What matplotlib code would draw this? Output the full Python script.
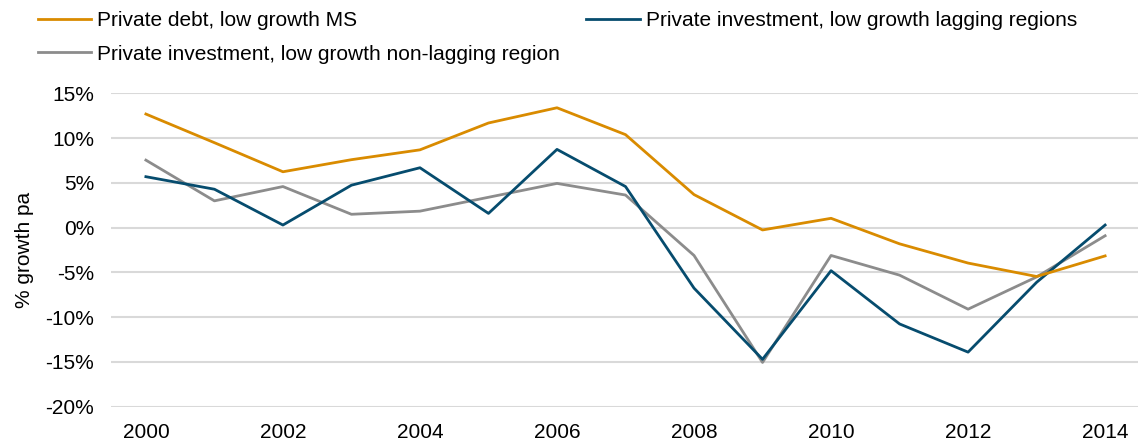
import matplotlib
matplotlib.use('Agg')
import matplotlib.pyplot as plt
from matplotlib.ticker import FuncFormatter

plt.rcParams['font.family'] = ['Liberation Sans', 'DejaVu Sans']

years = list(range(2000, 2015))
debt_ms = [12.7, 9.5, 6.25, 7.6, 8.7, 11.7, 13.4, 10.4, 3.7, -0.25, 1.05, -1.8, -3.95, -5.45, -3.15]
inv_lagging = [5.7, 4.3, 0.3, 4.75, 6.7, 1.6, 8.75, 4.6, -6.75, -14.7, -4.8, -10.75, -13.9, -6.1, 0.3]
inv_non_lagging = [7.55, 3.0, 4.6, 1.5, 1.85, 3.4, 4.95, 3.65, -3.1, -15.05, -3.1, -5.3, -9.1, -5.5, -0.9]

labels = ['Private debt, low growth MS',
          'Private investment, low growth non-lagging region',
          'Private investment, low growth lagging regions']
colors = ['#D98B00', '#8C8C8C', '#064C6E']

fig = plt.figure(figsize=(11.38, 4.45), dpi=100)
ax = fig.add_axes([0.0975, 0.086, 0.9025, 0.704])

# gray drawn under navy, legend order keeps orange/gray in first column
ax.plot(years, inv_non_lagging, color=colors[1], lw=2.0, label=labels[1], zorder=3)
ax.plot(years, debt_ms, color=colors[0], lw=2.0, label=labels[0], zorder=4)
ax.plot(years, inv_lagging, color=colors[2], lw=2.0, label=labels[2], zorder=3)

ax.set_xlim(1999.49, 2014.48)
ax.set_ylim(-20, 15)
ax.set_xticks(range(2000, 2015, 2))
ax.set_yticks(range(-20, 16, 5))
ax.yaxis.set_major_formatter(FuncFormatter(lambda v, p: '{:d}%'.format(int(v))))
ax.grid(axis='y', color='#D9D9D9', lw=1.5, zorder=0)
ax.set_axisbelow(True)
for s in ax.spines.values():
    s.set_visible(False)
ax.tick_params(axis='both', length=0, labelsize=15)
ax.tick_params(axis='x', pad=12)
ax.tick_params(axis='y', pad=12)
ax.set_ylabel('% growth pa', fontsize=15, labelpad=8)

h, l = ax.get_legend_handles_labels()
order = [1, 0, 2]
fig.legend([h[i] for i in order], [l[i] for i in order], ncol=2,
           loc='upper left', bbox_to_anchor=(0.017, 1.017), frameon=False,
           fontsize=15, handlelength=2.55, handletextpad=0.3,
           columnspacing=1.25, labelspacing=0.7)

fig.savefig('out.png', dpi=100)
